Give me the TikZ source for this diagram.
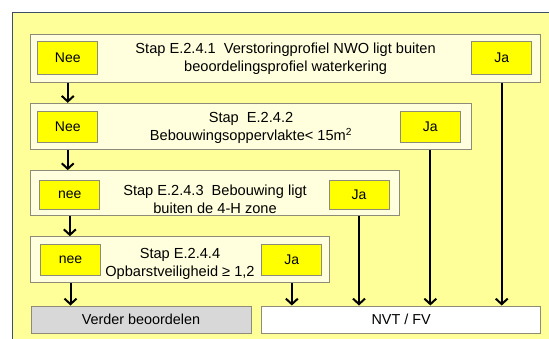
\documentclass[tikz,border=0pt]{standalone}
\usepackage{fontspec}
\setmainfont{Liberation Sans}
\usetikzlibrary{arrows.meta}
\definecolor{frameyellow}{RGB}{255,255,153}
\definecolor{framecol}{RGB}{60,78,104}
\definecolor{cream}{RGB}{255,255,222}
\definecolor{boxline}{RGB}{140,140,120}
\definecolor{labelyellow}{RGB}{255,255,0}
\definecolor{verdergray}{RGB}{216,216,216}
\tikzset{
  stepbox/.style={draw=boxline, line width=1pt, fill=cream, rectangle, inner sep=0pt},
  lbl/.style={draw=boxline, line width=1pt, fill=labelyellow, rectangle, inner sep=0pt,
    minimum width=60pt, font=\fontsize{14}{16}\selectfont},
  steptext/.style={align=center, inner sep=0pt, font=\fontsize{14.6}{18}\selectfont},
  endbox/.style={draw=boxline, line width=1pt, rectangle, inner sep=0pt,
    minimum height=27.3pt, font=\fontsize{14.4}{16}\selectfont},
  arr/.style={line width=2pt, -{Straight Barb[length=5.5pt,width=12pt]}}
}
\begin{document}
\begin{tikzpicture}[x=1pt,y=-1pt]
\useasboundingbox (0,0) rectangle (549,338);
\clip (0,0) rectangle (549,338);
\fill[white] (0,0) rectangle (549,338);
\draw[framecol, line width=1.6pt, fill=frameyellow] (12.5,12.5) rectangle (570,360);

% step boxes
\node[stepbox, minimum width=510.2pt, minimum height=48pt] (b1) at (285.6,58) {};
\node[stepbox, minimum width=441.2pt, minimum height=46pt] (b2) at (251.1,126.3) {};
\node[stepbox, minimum width=369.2pt, minimum height=45.3pt] (b3) at (214.9,193.3) {};
\node[stepbox, minimum width=298.5pt, minimum height=46pt] (b4) at (179.75,259.7) {};

% labels
\node[lbl, minimum height=33pt] (nee1) at (67.75,57.5) {Nee};
\node[lbl, minimum height=33pt] (ja1) at (501.7,57.5) {Ja};
\node[lbl, minimum height=30.5pt] (nee2) at (67.75,126.75) {Nee};
\node[lbl, minimum height=30.5pt] (ja2) at (430.35,126.75) {Ja};
\node[lbl, minimum height=29.5pt] (nee3) at (69.85,194.75) {nee};
\node[lbl, minimum height=29.5pt] (ja3) at (359,194.75) {Ja};
\node[lbl, minimum height=31pt] (nee4) at (70.5,260) {nee};
\node[lbl, minimum height=31pt] (ja4) at (291.85,260) {Ja};

% step texts
\node[steptext] (t1) at (285.6,58.5) {Stap E.2.4.1\ \ Verstoringprofiel NWO ligt buiten\\beoordelingsprofiel waterkering};
\node[steptext] (t2) at (251,128) {Stap\ \ E.2.4.2\\Bebouwingsoppervlakte< 15m\textsuperscript{2}};
\node[steptext] (t3) at (215,199) {Stap E.2.4.3\ \ Bebouwing ligt\\buiten de 4-H zone};
\node[steptext] (t4) at (180,263.5) {Stap E.2.4.4\\Opbarstveiligheid ≥ 1,2};

% end boxes
\node[endbox, fill=verdergray, minimum width=220pt] (verder) at (141,319.65) {Verder beoordelen};
\node[endbox, fill=white, minimum width=279pt] (nvt) at (401.2,319.65) {NVT / FV};

% connectors
\draw[arr] (nee1.south |- b1.south) -- (nee1.south |- b2.north);
\draw[arr] (nee2.south |- b2.south) -- (nee2.south |- b3.north);
\draw[arr] (nee3.south |- b3.south) -- (nee3.south |- b4.north);
\draw[arr] (nee4.south |- b4.south) -- (nee4.south |- verder.north);
\draw[arr] (ja1.south |- b1.south) -- (ja1.south |- nvt.north);
\draw[arr] (ja2.south |- b2.south) -- (ja2.south |- nvt.north);
\draw[arr] (ja3.south |- b3.south) -- (ja3.south |- nvt.north);
\draw[arr] (ja4.south |- b4.south) -- (ja4.south |- nvt.north);
\end{tikzpicture}
\end{document}
